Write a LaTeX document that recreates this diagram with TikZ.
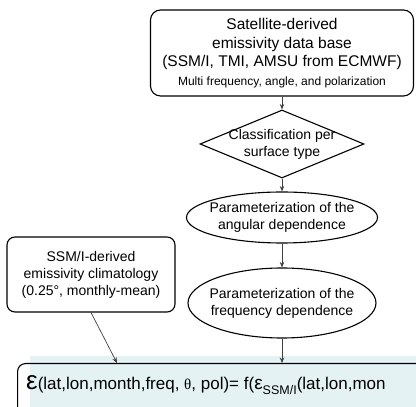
\documentclass[tikz,border=0pt]{standalone}
\usepackage{fontspec}
\setmainfont{Liberation Sans}
\newfontfamily\symfont{Liberation Serif}
\usepackage{xcolor}
\usetikzlibrary{arrows.meta,shapes}
\definecolor{eqbg}{RGB}{228,242,244}
\begin{document}
\begin{tikzpicture}[x=1pt,y=1pt,>={Stealth[length=5.5pt,width=4.5pt]},
roundbox/.style={draw,line width=1.1pt,rounded corners=#1,align=center,inner sep=0pt},
param/.style={ellipse,draw,line width=1.1pt,align=center,inner xsep=-8pt,inner ysep=0pt,font=\fontsize{14}{17}\selectfont},
conn/.style={->,line width=0.7pt,draw=black!75}]
\useasboundingbox(0,0)rectangle(416,407);
\clip(0,0)rectangle(416,407);
\fill[eqbg](30,0)rectangle(416,51);
\node[roundbox=10pt,minimum width=263pt,minimum height=86pt,font=\fontsize{15.5}{18.5}\selectfont](base)at(282,354){Satellite-derived\\emissivity data base\\(SSM/I, TMI, AMSU from ECMWF)\\{\fontsize{12}{14}\selectfont Multi frequency, angle, and polarization}};
\node[diamond,draw,line width=1.1pt,shape aspect=2.4,inner xsep=-14pt,inner ysep=0pt,minimum width=164pt,minimum height=68pt,align=center,font=\fontsize{14}{17}\selectfont](class)at(282,263){Classification per\\surface type};
\node[param,minimum width=191pt,minimum height=51pt](angle)at(282,189.5){Parameterization of the\\angular dependence};
\node[param,minimum width=188pt,minimum height=70pt](freq)at(282,104){Parameterization of the\\frequency dependence};
\node[roundbox=8pt,minimum width=168pt,minimum height=75pt,font=\fontsize{14}{17}\selectfont](clim)at(91,132.5){SSM/I-derived\\emissivity climatology\\(0.25°, monthly-mean)};
\node[draw,line width=1.1pt,rounded corners=8pt,minimum width=460pt,minimum height=70pt,anchor=north west,inner sep=0pt](eqbox)at(17,44){};
\node[anchor=base west,inner sep=0pt,font=\fontsize{17}{20}\selectfont](eq)at(26,17.6){{\fontsize{26}{26}\selectfont ε}(lat,lon,month,freq, {\symfont\fontsize{15}{15}\selectfont θ}, pol)= f({\fontsize{19}{19}\selectfont ε}\raisebox{-5pt}{\fontsize{12.5}{14}\selectfont SSM/I}(lat,lon,mon};
\coordinate(climend)at(117,44);
\draw[conn](base)--(class);
\draw[conn](class)--(angle);
\draw[conn](angle)--(freq);
\draw[conn](freq.south)--(freq.south|-eqbox.north);
\draw[conn](clim.south)--(climend);
\end{tikzpicture}
\end{document}
